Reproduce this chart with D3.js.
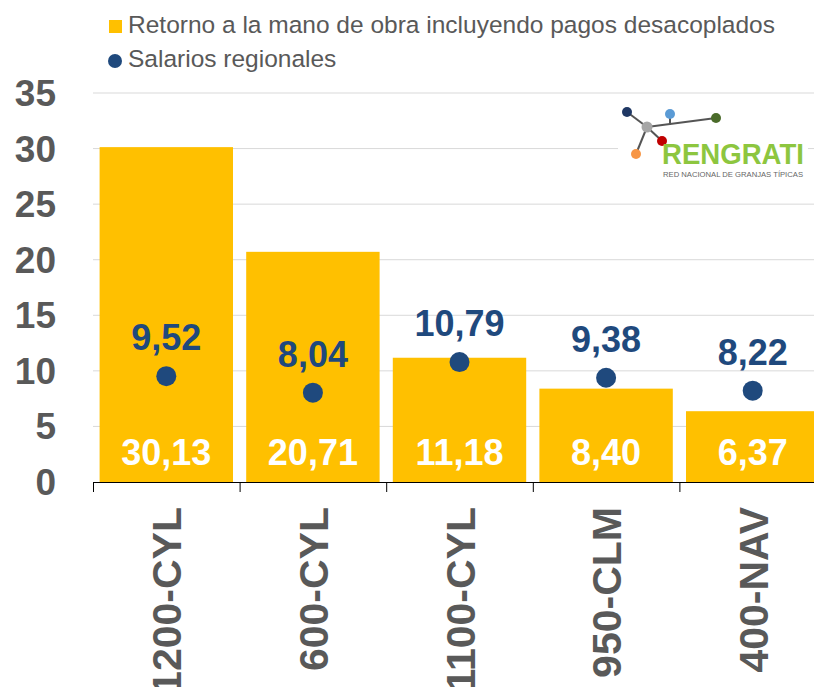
<!DOCTYPE html>
<html>
<head>
<meta charset="utf-8">
<script src="https://cdn.jsdelivr.net/npm/d3@7"></script>
<style>
  body { margin: 0; background: #fff; }
  svg { display: block; font-family: "Liberation Sans", Arial, sans-serif; }
</style>
</head>
<body>
<div id="chart"></div>
<script>
// chart data
const categories = ["1200-CYL", "600-CYL", "1100-CYL", "950-CLM", "400-NAV"];
const retorno = [30.13, 20.71, 11.18, 8.40, 6.37];
const salarios = [9.52, 8.04, 10.79, 9.38, 8.22];
const y_ticks = [0, 5, 10, 15, 20, 25, 30, 35];

const width = 814;
const height = 687;
const margin = { top: 93, right: -12, bottom: 205, left: 93 };

const fmt = v => v.toFixed(2).replace(".", ",");

const svg = d3.select("#chart")
  .append("svg")
  .attr("width", width)
  .attr("height", height);

// scales
const x = d3.scaleBand()
  .domain(categories)
  .range([margin.left, width - margin.right])
  .paddingInner(0.09)
  .paddingOuter(0.045);

const y = d3.scaleLinear()
  .domain([0, 35])
  .range([height - margin.bottom, margin.top]);

// gridlines
svg.append("g")
  .selectAll("line")
  .data(y_ticks.slice(1))
  .enter()
  .append("line")
  .attr("x1", margin.left)
  .attr("x2", width)
  .attr("y1", d => y(d))
  .attr("y2", d => y(d))
  .attr("stroke", "#d9d9d9")
  .attr("stroke-width", 1);

// y tick labels
svg.append("g")
  .selectAll("text")
  .data(y_ticks)
  .enter()
  .append("text")
  .attr("x", 56)
  .attr("y", d => y(d) + 13)
  .attr("text-anchor", "end")
  .attr("font-size", "37px")
  .attr("font-weight", "bold")
  .attr("fill", "#595959")
  .text(d => d);

// bars
svg.append("g")
  .selectAll("rect")
  .data(retorno)
  .enter()
  .append("rect")
  .attr("x", (d, i) => x(categories[i]))
  .attr("y", d => y(d))
  .attr("width", x.bandwidth())
  .attr("height", d => y(0) - y(d))
  .attr("fill", "#ffc000");

// bar labels
svg.append("g")
  .selectAll("text")
  .data(retorno)
  .enter()
  .append("text")
  .attr("x", (d, i) => x(categories[i]) + x.bandwidth() / 2)
  .attr("y", y(0) - 17)
  .attr("text-anchor", "middle")
  .attr("font-size", "36px")
  .attr("font-weight", "bold")
  .attr("fill", "#ffffff")
  .text(d => fmt(d));

// x axis
const step = x.step();
const x_axis = svg.append("g");
x_axis.append("line")
  .attr("x1", margin.left)
  .attr("x2", width)
  .attr("y1", y(0) + 0.5)
  .attr("y2", y(0) + 0.5)
  .attr("stroke", "#000")
  .attr("stroke-width", 1);
x_axis.selectAll(".tick")
  .data(d3.range(categories.length + 1))
  .enter()
  .append("line")
  .attr("x1", i => margin.left + i * step + 0.5)
  .attr("x2", i => margin.left + i * step + 0.5)
  .attr("y1", y(0))
  .attr("y2", y(0) + 10)
  .attr("stroke", "#000");

// category labels (rotated)
svg.append("g")
  .selectAll("text")
  .data(categories)
  .enter()
  .append("text")
  .attr("transform", d => `translate(${x(d) + x.bandwidth() / 2 + 15}, ${y(0) + 25}) rotate(-90)`)
  .attr("text-anchor", "end")
  .attr("font-size", "41px")
  .attr("font-weight", "bold")
  .attr("fill", "#595959")
  .text(d => d);

// salary dots
svg.append("g")
  .selectAll("circle")
  .data(salarios)
  .enter()
  .append("circle")
  .attr("cx", (d, i) => x(categories[i]) + x.bandwidth() / 2)
  .attr("cy", d => y(d))
  .attr("r", 10)
  .attr("fill", "#1f497d");

svg.append("g")
  .selectAll("text")
  .data(salarios)
  .enter()
  .append("text")
  .attr("x", (d, i) => x(categories[i]) + x.bandwidth() / 2)
  .attr("y", d => y(d) - 26)
  .attr("text-anchor", "middle")
  .attr("font-size", "36px")
  .attr("font-weight", "bold")
  .attr("fill", "#1f497d")
  .text(d => fmt(d));

// legend
const legend = svg.append("g");
legend.append("rect")
  .attr("x", 109).attr("y", 20)
  .attr("width", 13).attr("height", 13)
  .attr("fill", "#ffc000");
legend.append("text")
  .attr("x", 128).attr("y", 33)
  .attr("font-size", "24.5px")
  .attr("fill", "#595959")
  .text("Retorno a la mano de obra incluyendo pagos desacoplados");
legend.append("circle")
  .attr("cx", 115).attr("cy", 61)
  .attr("r", 7)
  .attr("fill", "#1f497d");
legend.append("text")
  .attr("x", 128).attr("y", 67)
  .attr("font-size", "24.5px")
  .attr("fill", "#595959")
  .text("Salarios regionales");

// logo
const logo = svg.append("g");
logo.append("rect")
  .attr("x", 618).attr("y", 100)
  .attr("width", 190).attr("height", 82)
  .attr("fill", "#fff");
const lines = [[627, 112, 647, 127], [647, 127, 716, 118], [670, 114, 670, 125], [647, 127, 636, 154], [647, 127, 662, 141]];
logo.selectAll("line")
  .data(lines)
  .enter()
  .append("line")
  .attr("x1", d => d[0]).attr("y1", d => d[1])
  .attr("x2", d => d[2]).attr("y2", d => d[3])
  .attr("stroke", "#555")
  .attr("stroke-width", 2);
const nodes = [[627, 112, 5, "#1f3864"], [647, 127, 5.5, "#a6a6a6"], [670, 114, 5, "#5b9bd5"], [716, 118, 5, "#4a6b2a"], [662, 141, 5, "#c00000"], [636, 154, 5, "#f79646"]];
logo.selectAll("circle")
  .data(nodes)
  .enter()
  .append("circle")
  .attr("cx", d => d[0]).attr("cy", d => d[1])
  .attr("r", d => d[2])
  .attr("fill", d => d[3]);
logo.append("text")
  .attr("x", 662).attr("y", 164)
  .attr("font-size", "29px")
  .attr("font-weight", "bold")
  .attr("fill", "#8dc63f")
  .attr("textLength", 142)
  .attr("lengthAdjust", "spacingAndGlyphs")
  .text("RENGRATI");
logo.append("text")
  .attr("x", 663).attr("y", 177)
  .attr("font-size", "8px")
  .attr("fill", "#666")
  .attr("textLength", 140)
  .attr("lengthAdjust", "spacingAndGlyphs")
  .text("RED NACIONAL DE GRANJAS TÍPICAS");
</script>
</body>
</html>
